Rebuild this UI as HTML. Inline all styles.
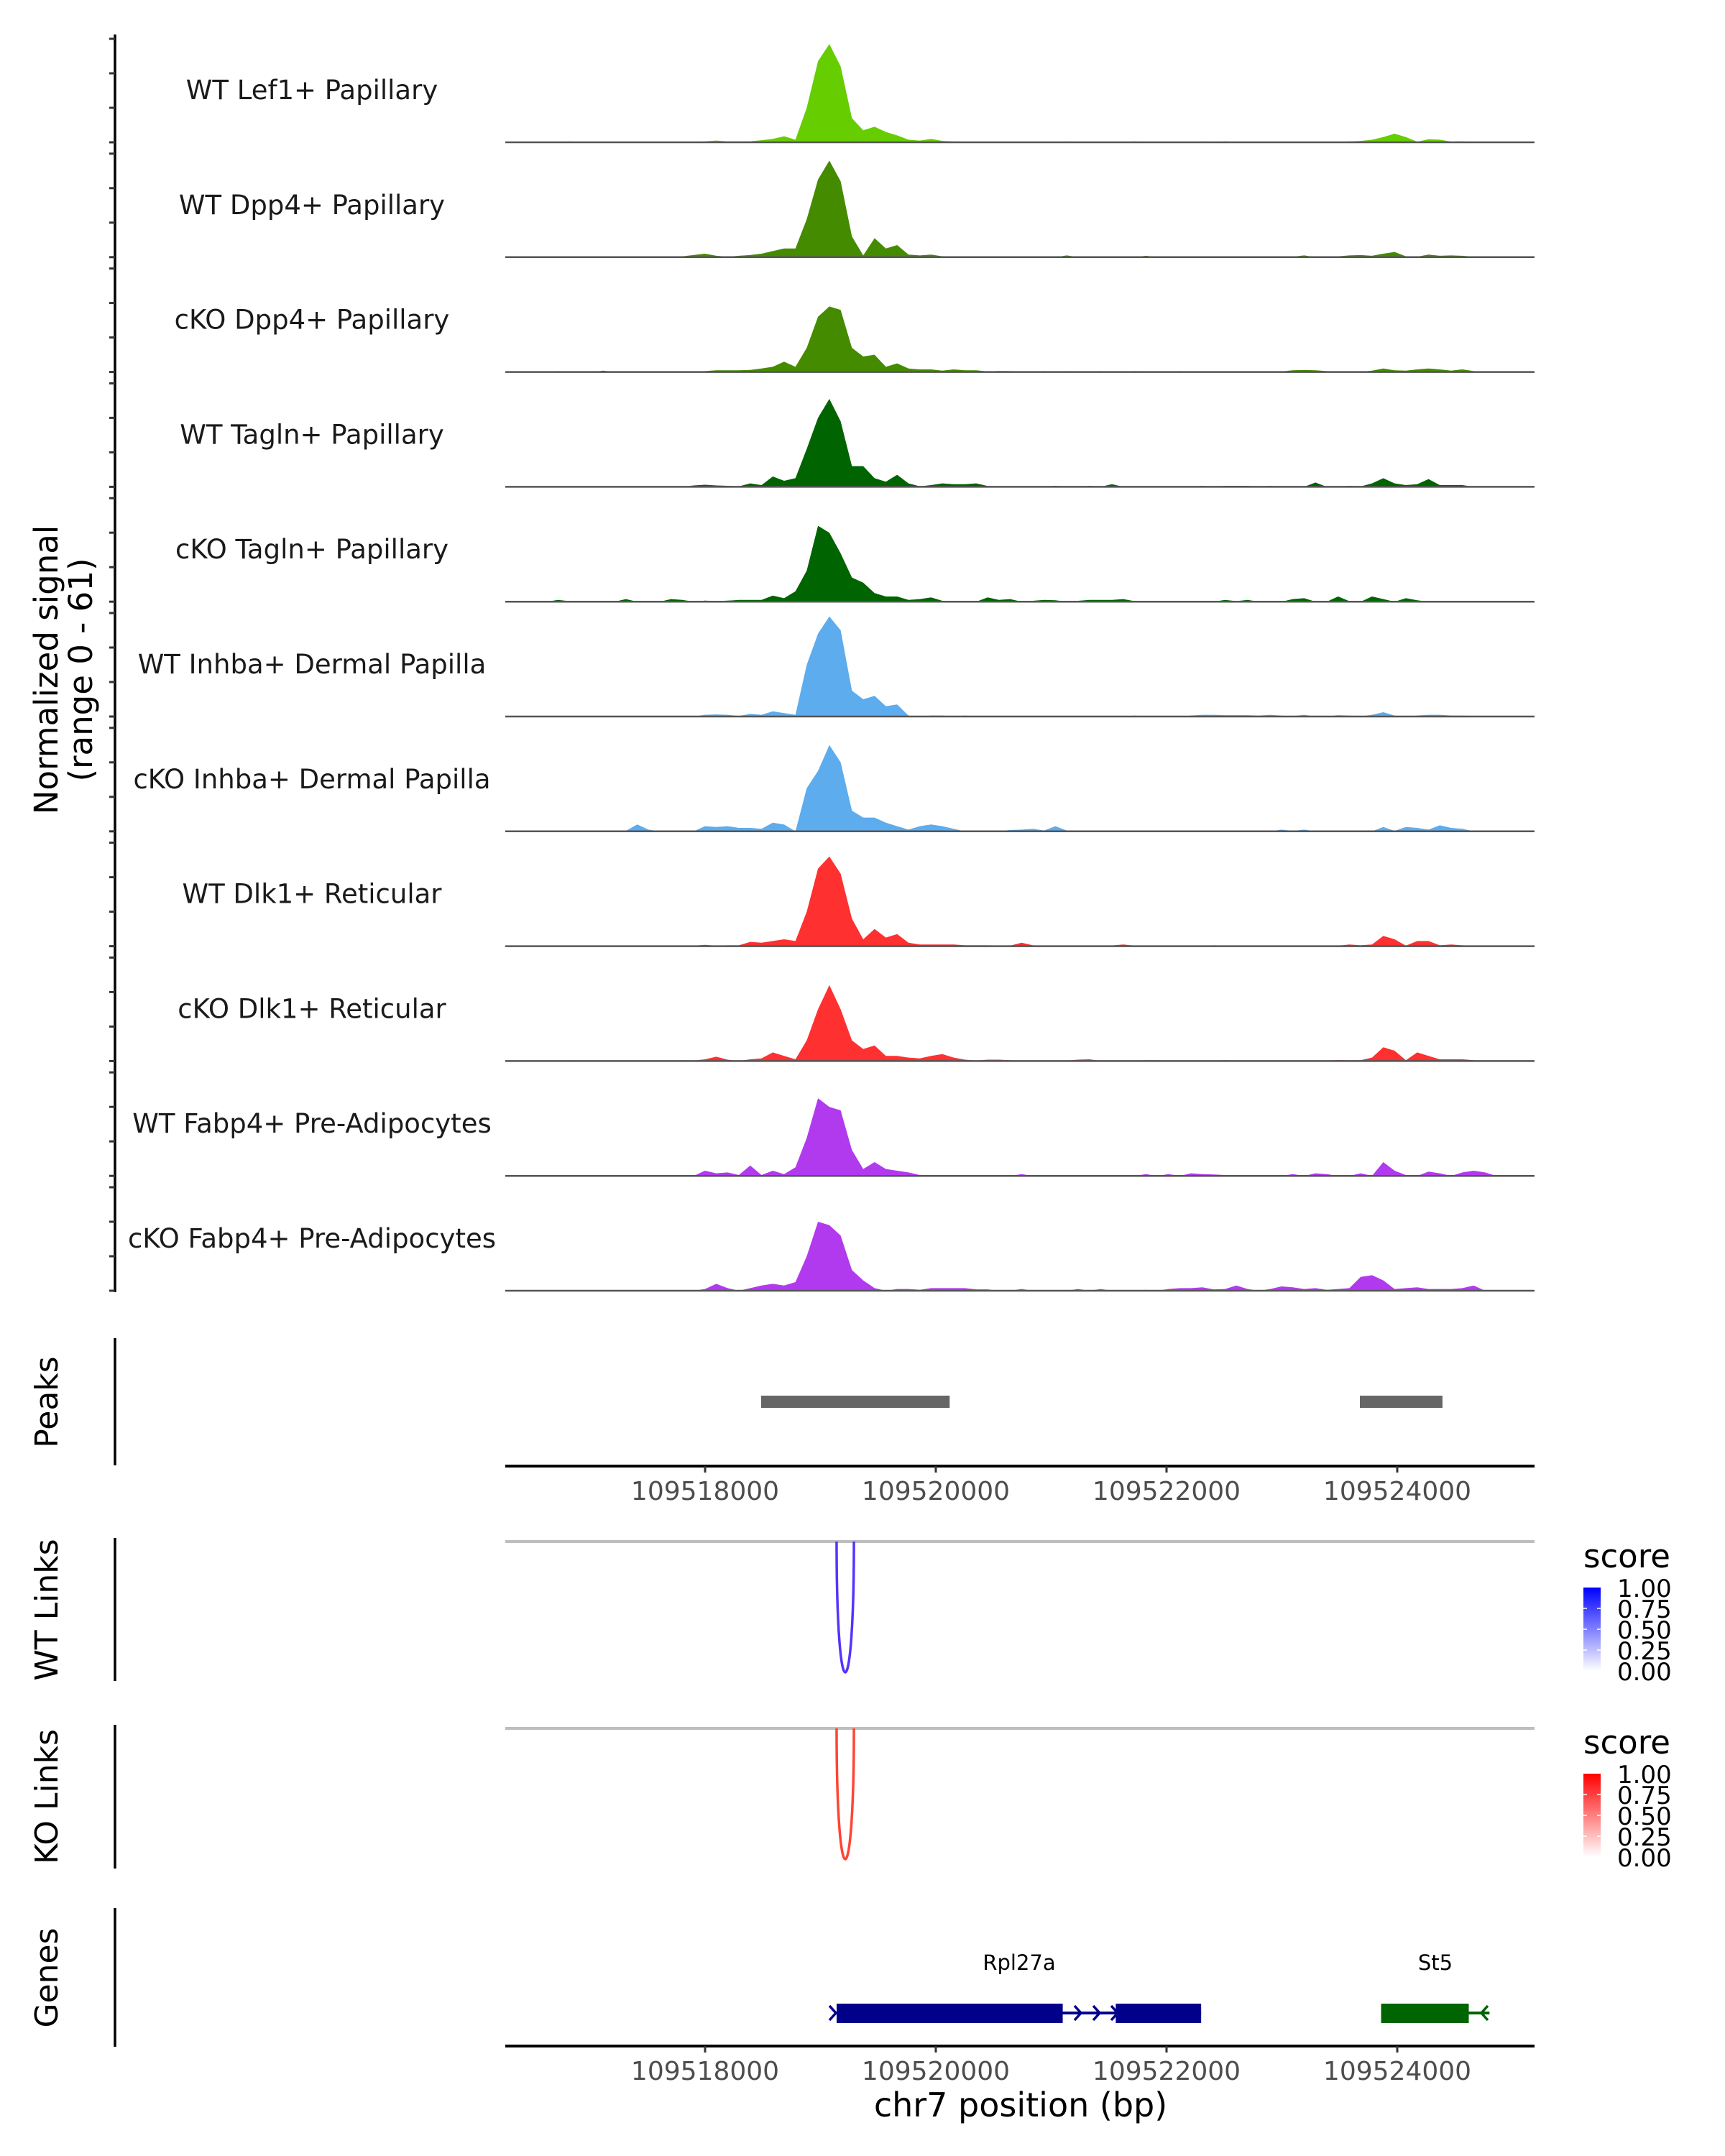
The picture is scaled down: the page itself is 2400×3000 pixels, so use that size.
<!DOCTYPE html>
<html><head><meta charset="utf-8"><style>
html,body{margin:0;padding:0;background:#fff}
svg{display:block;font-family:"DejaVu Sans","Liberation Sans",sans-serif}
</style></head><body>
<svg id="chart" width="2400" height="3000" viewBox="0 0 2400 3000" xmlns="http://www.w3.org/2000/svg">
<rect width="2400" height="3000" fill="#fff"/>
<g id="tracks"></g>
<line x1="160" y1="48" x2="160" y2="1798" stroke="#000" stroke-width="3.5"/>
<g id="yticks"></g>
<text transform="translate(80,932) rotate(-90)" text-anchor="middle" font-size="45" fill="#000">Normalized signal</text>
<text transform="translate(128,932) rotate(-90)" text-anchor="middle" font-size="45" fill="#000">(range 0 - 61)</text>
<g id="labels"></g>

<line x1="160" y1="1862" x2="160" y2="2039" stroke="#000" stroke-width="3.5"/>
<text transform="translate(80,1951) rotate(-90)" text-anchor="middle" font-size="44" fill="#000">Peaks</text>
<g id="peaks"></g>
<line x1="703" y1="2040" x2="2135" y2="2040" stroke="#000" stroke-width="4"/>
<g id="xticks1"></g>

<line x1="160" y1="2140" x2="160" y2="2339" stroke="#000" stroke-width="3.5"/>
<text transform="translate(80,2240) rotate(-90)" text-anchor="middle" font-size="44" fill="#000">WT Links</text>
<line x1="703" y1="2145" x2="2135" y2="2145" stroke="#bebebe" stroke-width="4"/>
<g id="wtlinks"></g>

<line x1="160" y1="2400" x2="160" y2="2600" stroke="#000" stroke-width="3.5"/>
<text transform="translate(80,2500) rotate(-90)" text-anchor="middle" font-size="44" fill="#000">KO Links</text>
<line x1="703" y1="2405" x2="2135" y2="2405" stroke="#bebebe" stroke-width="4"/>
<g id="kolinks"></g>

<defs>
<linearGradient id="gb" x1="0" y1="1" x2="0" y2="0"><stop offset="0" stop-color="#ffffff"/><stop offset="1" stop-color="#0000ff"/></linearGradient>
<linearGradient id="gr" x1="0" y1="1" x2="0" y2="0"><stop offset="0" stop-color="#ffffff"/><stop offset="1" stop-color="#ff0000"/></linearGradient>
</defs>
<g>
<text x="2203" y="2181" font-size="45" fill="#000">score</text>
<rect x="2203" y="2209" width="24" height="116" fill="url(#gb)"/>
<g font-size="34" fill="#000">
<text x="2250" y="2222">1.00</text><text x="2250" y="2251">0.75</text><text x="2250" y="2280">0.50</text><text x="2250" y="2309">0.25</text><text x="2250" y="2338">0.00</text>
</g>
<g stroke="#fff" stroke-width="1.5"><line x1="2203" y1="2238" x2="2208" y2="2238"/><line x1="2222" y1="2238" x2="2227" y2="2238"/><line x1="2203" y1="2267" x2="2208" y2="2267"/><line x1="2222" y1="2267" x2="2227" y2="2267"/><line x1="2203" y1="2296" x2="2208" y2="2296"/><line x1="2222" y1="2296" x2="2227" y2="2296"/></g>
</g>
<g>
<text x="2203" y="2440" font-size="45" fill="#000">score</text>
<rect x="2203" y="2468" width="24" height="116" fill="url(#gr)"/>
<g font-size="34" fill="#000">
<text x="2250" y="2481">1.00</text><text x="2250" y="2510">0.75</text><text x="2250" y="2539">0.50</text><text x="2250" y="2568">0.25</text><text x="2250" y="2597">0.00</text>
</g>
<g stroke="#fff" stroke-width="1.5"><line x1="2203" y1="2497" x2="2208" y2="2497"/><line x1="2222" y1="2497" x2="2227" y2="2497"/><line x1="2203" y1="2526" x2="2208" y2="2526"/><line x1="2222" y1="2526" x2="2227" y2="2526"/><line x1="2203" y1="2555" x2="2208" y2="2555"/><line x1="2222" y1="2555" x2="2227" y2="2555"/></g>
</g>

<line x1="160" y1="2655" x2="160" y2="2848" stroke="#000" stroke-width="3.5"/>
<text transform="translate(80,2752) rotate(-90)" text-anchor="middle" font-size="44" fill="#000">Genes</text>
<g id="genes"></g>
<line x1="703" y1="2847" x2="2135" y2="2847" stroke="#000" stroke-width="4"/>
<g id="xticks2"></g>
<text x="1420" y="2945" text-anchor="middle" font-size="46" fill="#000">chr7 position (bp)</text>
</svg>
<script>
const binStart = 109516480;
const binSize = 98;
const trackNames = ["WT Lef1+ Papillary","WT Dpp4+ Papillary","cKO Dpp4+ Papillary","WT Tagln+ Papillary","cKO Tagln+ Papillary","WT Inhba+ Dermal Papilla","cKO Inhba+ Dermal Papilla","WT Dlk1+ Reticular","cKO Dlk1+ Reticular","WT Fabp4+ Pre-Adipocytes","cKO Fabp4+ Pre-Adipocytes"];
const trackColors = ["#66CD00","#458B00","#458B00","#006400","#006400","#5CACEE","#5CACEE","#FF3030","#FF3030","#B23AEE","#B23AEE"];
const sigWTLef1 = [0,0,0.3,0.5,0.2,0.2,0.3,0.2,0.2,0.3, 0.3,0.2,0.3,0.4,0.3,0.5,1,0.5,0.5,0.6, 1.2,2,3.5,1.5,20,47,57,44,14,7, 9,6,4,1.5,1,2,0.8,0.5,0.4,0.3, 0.3,0.3,0.3,0.3,0.3,0.3,0.3,0.5,0.3,0.3, 0.3,0.3,0.3,0.5,0.3,0.3,0.3,0.3,0.3,0.5, 0.3,0.5,0.3,0.3,0.3,0.3,0.3,0.3,0.3,0.3, 0.3,0.3,0.5,0.8,1.5,3,5,3,0.3,1.8, 1.5,0.4,0.6,0.2,0,0,0];
const sigWTDpp4 = [0,0,0.5,0,0,0.4,0,0.4,0,0, 0,0,0,0.5,1.2,2,0.8,0.3,0.8,1.2, 2,3.5,5,5,22,45,56,44,12,1, 11,5,7,1.5,1,1.5,0.5,0.3,0.3,0.3, 0,0,0,0,0,0,0,1,0,0, 0,0,0,0,0.8,0,0,0,0,0, 0.4,0,0,0,0,0,0.4,0.3,1,0, 0,0.5,1,1.2,0.8,2,3,0.5,0.3,1.5, 0.8,1,0.8,0.3,0,0,0];
const sigKODpp4 = [0,0,0.5,0.3,0,0,0.8,0,0,0, 0,0,0,0,0,0.5,1,1,1,1.2, 2,3,6,3,14,32,38,36,14,9, 10,3,5,2,1.5,1.5,0.8,1.5,1,1, 0.3,0.6,0.5,0.4,0.3,0.5,0.3,0.5,0.3,0.3, 0.5,0.3,0.3,0.5,0.4,0.3,0.3,0.5,0.3,0.3, 0.3,0.3,0.3,0.3,0.3,0.3,0.3,1,1.2,1, 0.5,0,0,0,0.8,2,1,0.8,1.5,2, 1.5,0.8,1.5,0.5,0,0,0];
const sigWTTagln = [0,0,0,0,0,0,0,0,0,0, 0,0,0,0,0.8,1.2,0.8,0.6,0.3,2, 1,6,3.5,5,22,40,51,38,12,12, 5,3,7,2,0.3,1,2,1.5,1.5,2, 0.5,0,0.4,0,0,0,0.6,0,0,0.6, 0,1.5,0,0,0,0,0,0,0,0.6, 0,0.6,0.6,0.6,0,0.6,0,0,0,2.5, 0,0,0.6,0.2,2,5,2,1,1.5,4.5, 1,1,1,0,0,0,0];
const sigKOTagln = [0,0,1,0.3,0,0,0,0,1.5,0, 0.3,0,1.5,1,0,0.6,0.3,0.6,1,1, 1,3.5,2,6,18,44,40,28,14,11, 5,3,3,1,1.5,2.5,0.5,0.3,0.3,0, 2.5,1,1.5,0,0.5,1,0.8,0,0.5,1, 1,1,1.5,0.3,0.3,0,0,0,0.3,0, 0,1,0.3,1,0,0.5,0,1.5,2,0, 0,3,0.3,0,3,1.5,0,2,0.8,0, 0,0,0,0,0,0,0];
const sigWTInhba = [0,0,0.3,0,0,0,0,0,0,0, 0,0,0,0.3,0,1,1.2,1,0.3,1.5, 1,3,2,1,30,48,58,50,15,10, 12,6,7,0.5,0,0.6,0.6,0,0.6,0, 0.3,0,0.2,0,0,0.3,0,0,0.3,0, 0,0,0,0.6,0,0,0,0,0.6,1, 1,0.8,0.8,0.8,0.5,1,0.5,0.2,1,0, 0,0.8,0.5,0,1,2.5,0.5,0,0.6,1, 1,0.6,0.5,0.4,0,0,0];
const sigKOInhba = [0,0,0,0,0,0,0,0,0.3,4, 1,0,0,0,0,3,2.5,3,2,2, 1.5,5,4,0,25,35,50,40,12,8, 8,5,3,1,3,4,3,1.5,0,0, 0,0,0.8,1,1.5,0.5,3,0.5,0,0, 0,0,0,0,0,0,0,0,0,0, 0,0,0,0,0,0,1,0.2,1,0, 0,0,0,0,0,2.5,0.3,2.5,2,1, 3.5,2,1.5,0,0,0,0];
const sigWTDlk1 = [0,0,0,0,0,0,0,0,0,0, 0.3,0.3,0,0,0.3,0.8,0.3,0.5,0.5,2.5, 2,3,4,3,20,45,52,42,16,4, 10,5,7,2,1,1,1,1,0.5,0.5, 0.5,0.4,0.3,2,0.5,0.3,0,0,0.3,0, 0.4,0.4,1,0.3,0,0,0,0,0,0, 0.5,0.3,0,0,0,0,0.3,0.3,0.3,0, 0,0.3,1,0.5,1,6,4,0.3,3,3, 0.5,1,0.5,0,0,0,0];
const sigKODlk1 = [0,0,0,0.4,0.3,0.3,0,0.3,0,0, 0,0,0,0.5,0.3,1,2.5,0.8,0,1, 1.5,5,3,1,12,30,44,30,12,7, 9,3,3,2,1.5,3,4,2,0.8,0.3, 0.8,0.8,0.5,0,0,0,0,0.3,0.8,1, 0,0.5,0,0.3,0.5,0.5,0,0.3,0.3,0.3, 0.3,0.5,0.3,0.3,0,0,0,0,0,0, 0.3,0.6,0.4,0.5,2,8,6,0.5,5,3, 1,1,1,0.5,0,0,0];
const sigWTFabp4 = [0,0,0,0,0,0,0,0,0,0, 0,0,0,0,0,3,1.5,2,0.5,6, 0.5,3,1,5,22,45,40,38,15,4, 8,4,3,2,0.5,0,0,0,0,0, 0,0,0,1,0,0,0,0,0,0, 0,0,0,0,1,0,1,0,1.5,1, 0.8,0.5,0,0,0,0,0,1,0,1.5, 1,0,0,1.5,0,8,3,0.5,0,2.5, 1.5,0,2,3,2,0,0];
const sigKOFabp4 = [0,0,0,0,0,0,0,0,0,0, 0,0,0,0,0,1,4,1.5,0,1.5, 3,4,3,5,20,40,38,32,12,6, 1.5,0,1,1,0.5,1.5,1.5,1.5,1.5,0.8, 0.8,0,0,1,0,0,0,0,1,0, 1,0,0,0,0.5,0,1,1.5,1.5,2, 0.8,1,3,1,0,1,2.5,2,1,1.5, 0.5,1,1.5,8,9,6,1,1.5,2,1, 1,1,1.5,3,0,0,0];
const signals = [sigWTLef1,sigWTDpp4,sigKODpp4,sigWTTagln,sigKOTagln,sigWTInhba,sigKOInhba,sigWTDlk1,sigKODlk1,sigWTFabp4,sigKOFabp4];
const yTickValues = [0,20,40,60];
const xTickValues = [109518000,109520000,109522000,109524000];
const peakStarts = [109518486,109523676];
const peakEnds = [109520120,109524392];
const linkStarts = [109519140];
const linkEnds = [109519290];
const linkScores = [1];
const exonStartsRpl27a = [109519140,109521560];
const exonEndsRpl27a = [109521100,109522300];
const exonStartsSt5 = [109523860];
const exonEndsSt5 = [109524620];

const NS = "http://www.w3.org/2000/svg";
function xs(bp){ return 981 + (bp - 109518000) * 0.1605; }
function base(k){ return 198 + 159.8 * k; }
function ys(k, v){ return base(k) - v * 2.4; }
function mk(tag, attrs, parent){ const e = document.createElementNS(NS, tag); for (const a in attrs) e.setAttribute(a, attrs[a]); parent.appendChild(e); return e; }

const gT = document.getElementById('tracks'), gY = document.getElementById('yticks'), gL = document.getElementById('labels');
signals.forEach(function(arr, k){
  let pts = [];
  pts.push(xs(binStart).toFixed(1) + ',' + base(k).toFixed(1));
  arr.forEach(function(v, i){
    const xc = xs(binStart + (i + 0.5) * binSize);
    pts.push(xc.toFixed(1) + ',' + ys(k, v).toFixed(1));
  });
  pts.push(xs(binStart + arr.length * binSize).toFixed(1) + ',' + base(k).toFixed(1));
  const p = mk('polygon', {points: pts.join(' '), fill: trackColors[k]}, gT);
  
  
  const bl = mk('line', {x1: 703, x2: 2135, y1: base(k), y2: base(k), stroke: '#555', 'stroke-width': 2.5}, gT);
  
  
  yTickValues.forEach(function(t){
    const tk = mk('line', {x1: 152, x2: 160, y1: ys(k, t), y2: ys(k, t), stroke: '#333', 'stroke-width': 3}, gY);
    
    
  });
  const lb = mk('text', {x: 434, y: base(k) - 60, 'text-anchor': 'middle', 'font-size': 37, fill: '#1a1a1a'}, gL);
  
  
  lb.textContent = trackNames[k];
});

const gP = document.getElementById('peaks');
peakStarts.forEach(function(s, i){
  const r = mk('rect', {x: xs(s), y: 1942, width: xs(peakEnds[i]) - xs(s), height: 17, fill: '#666666'}, gP);
  
  
});

function ticks(id, y){
  const g = document.getElementById(id);
  xTickValues.forEach(function(t){
    const l = mk('line', {x1: xs(t), x2: xs(t), y1: y, y2: y + 9, stroke: '#333', 'stroke-width': 3}, g);
    
    
    const tx = mk('text', {x: xs(t), y: y + 47, 'text-anchor': 'middle', 'font-size': 36, fill: '#4d4d4d'}, g);
    
    
    tx.textContent = String(t);
  });
}
ticks('xticks1', 2040);
ticks('xticks2', 2847);

function links(id, top, depth, color){
  const g = document.getElementById(id);
  linkStarts.forEach(function(s, i){
    const x1 = xs(s), x2 = xs(linkEnds[i]);
    const c = top + depth * 4 / 3 * linkScores[i];
    const p = mk('path', {d: 'M' + x1 + ',' + top + ' C' + x1 + ',' + c + ' ' + x2 + ',' + c + ' ' + x2 + ',' + top, fill: 'none', stroke: color, 'stroke-width': 3.5}, g);
    
    
  });
}
links('wtlinks', 2145, 182, '#5533FF');
links('kolinks', 2405, 182, '#FF4433');

const gG = document.getElementById('genes');
function gene(name, starts, ends, color, labelX, lineEnd){
  const y = 2801;
  const ln = mk('line', {x1: xs(starts[0]), x2: xs(lineEnd), y1: y, y2: y, stroke: color, 'stroke-width': 4}, gG);
  
  
  starts.forEach(function(s, i){
    const r = mk('rect', {x: xs(s), y: 2788, width: xs(ends[i]) - xs(s), height: 27, fill: color}, gG);
    
    
  });
  const lb = mk('text', {x: labelX, y: 2741, 'text-anchor': 'middle', 'font-size': 29, fill: '#000'}, gG);
  
  
  lb.textContent = name;
}
gene('Rpl27a', exonStartsRpl27a, exonEndsRpl27a, '#00008B', 1418, 109522300);
gene('St5', exonStartsSt5, exonEndsSt5, '#006400', 1997, 109524800);
[1500, 1526, 1551].forEach(function(x){
  const c = mk('path', {d: 'M' + (x - 5) + ',2791 L' + (x + 4) + ',2801 L' + (x - 5) + ',2811', fill: 'none', stroke: '#00008B', 'stroke-width': 3.5}, gG);
  
  
});
const c0 = mk('path', {d: 'M1154,2791 L1163,2801 L1154,2811', fill: 'none', stroke: '#00008B', 'stroke-width': 3.5}, gG);


const c1 = mk('path', {d: 'M2070,2791 L2061,2801 L2070,2811', fill: 'none', stroke: '#006400', 'stroke-width': 3.5}, gG);


</script>
</body></html>
